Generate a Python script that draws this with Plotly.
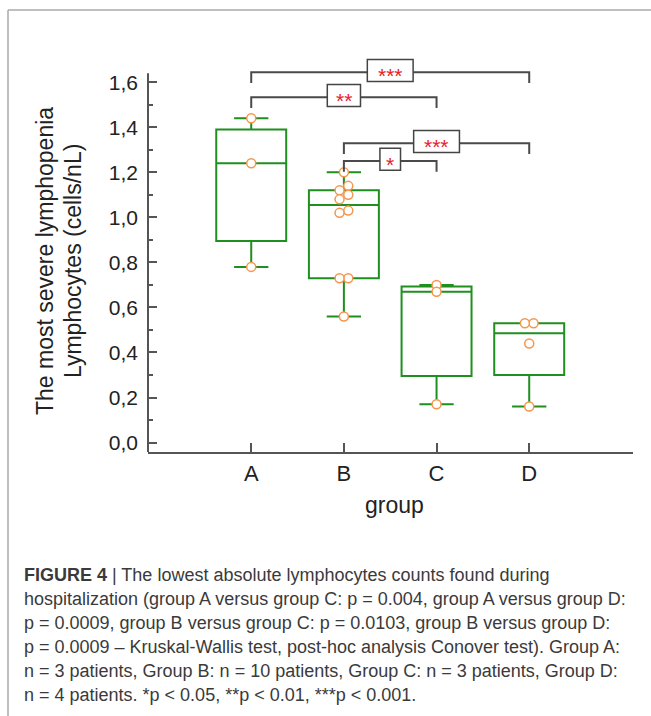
import numpy as np
import plotly.graph_objects as go

# Lowest absolute lymphocyte counts (cells/nL) per patient group
groups = ["A", "B", "C", "D"]
group_a = [1.44, 1.24, 0.78]
group_b = [1.20, 1.14, 1.12, 1.10, 1.08, 1.03, 1.02, 0.73, 0.73, 0.56]
group_c = [0.70, 0.67, 0.17]
group_d = [0.53, 0.53, 0.44, 0.16]

# Pairwise comparisons (Conover post-hoc) and their significance stars
pairs = [("A", "D"), ("A", "C"), ("B", "D"), ("B", "C")]
pair_stars = ["***", "**", "***", "*"]

y_ticks = [0.0, 0.2, 0.4, 0.6, 0.8, 1.0, 1.2, 1.4, 1.6]

caption_lines = [
    "<b>FIGURE 4</b> | The lowest absolute lymphocytes counts found during",
    "hospitalization (group A versus group C: p = 0.004, group A versus group D:",
    "p = 0.0009, group B versus group C: p = 0.0103, group B versus group D:",
    "p = 0.0009 – Kruskal-Wallis test, post-hoc analysis Conover test). Group A:",
    "n = 3 patients, Group B: n = 10 patients, Group C: n = 3 patients, Group D:",
    "n = 4 patients. *p < 0.05, **p < 0.01, ***p < 0.001.",
]

# ---- styling / geometry ----
W, H = 651, 716
M_L, M_R, M_T, M_B = 148, 18, 53, 264
GREEN = "#1f8f1f"
ORANGE = "#f5964b"
AXIS = "#555555"
FONT = "Liberation Sans, Arial, sans-serif"
Y_RANGE = [-0.042, 1.73]
Y_AXIS_TOP = 1.64
X_RANGE = [-0.114, 5.12]

data = [group_a, group_b, group_c, group_d]
xpos = {g: i + 1 for i, g in enumerate(groups)}


def px_x(p):
    return (p - M_L) / (W - M_L - M_R)


def px_y(p):
    return (H - M_B - p) / (H - M_T - M_B)


fig = go.Figure()

# box summary (quartiles via Hazen interpolation)
stats = [np.quantile(v, [0.25, 0.5, 0.75], method="hazen") for v in data]
fig.add_trace(go.Box(
    x=[xpos[g] for g in groups],
    q1=[s[0] for s in stats],
    median=[s[1] for s in stats],
    q3=[s[2] for s in stats],
    lowerfence=[min(v) for v in data],
    upperfence=[max(v) for v in data],
    width=0.755,
    whiskerwidth=0.49,
    line=dict(color=GREEN, width=2),
    fillcolor="rgba(0,0,0,0)",
    boxpoints=False,
    hoverinfo="skip",
    showlegend=False,
))

# individual patients, nudged sideways when values crowd together
px_, py_ = [], []
for g, vals in zip(groups, data):
    sv = sorted(vals, reverse=True)
    sign = 1
    for i, v in enumerate(sv):
        crowded = any(abs(v - w) < 0.025 for j, w in enumerate(sv) if j != i)
        off = 0.0
        if crowded:
            off = 0.047 * sign
            sign = -sign
        px_.append(xpos[g] + off)
        py_.append(v)
fig.add_trace(go.Scatter(
    x=px_, y=py_, mode="markers",
    marker=dict(symbol="circle", size=9, color="white",
                line=dict(color=ORANGE, width=1.5)),
    hoverinfo="skip", showlegend=False,
))

# significance brackets
bracket_levels = [1.644, 1.533, 1.329, 1.25]
drop = 0.047
for (g1, g2), stars, lvl in zip(pairs, pair_stars, bracket_levels):
    x1, x2 = xpos[g1], xpos[g2]
    fig.add_shape(type="path",
                  path=f"M {x1},{lvl - drop} L {x1},{lvl} L {x2},{lvl} L {x2},{lvl - drop}",
                  line=dict(color="#4a4a4a", width=2), xref="x", yref="y")
    half_w = 4 + 6.3 * len(stars)
    xm = (x1 + x2) / 2
    ym = lvl + 0.008
    fig.add_shape(type="rect", xref="x", yref="y",
                  xsizemode="pixel", ysizemode="pixel",
                  xanchor=xm, yanchor=ym,
                  x0=-half_w, x1=half_w, y0=-11, y1=11,
                  fillcolor="white", line=dict(color="#444444", width=1.5))
    fig.add_annotation(x=xm, y=ym, xref="x", yref="y", text=stars,
                       showarrow=False, yshift=-5,
                       font=dict(family=FONT, size=21, color="#e8202a"))

# left axis line, stopping just above the top tick
fig.add_shape(type="line", xref="paper", yref="y", x0=0, x1=0,
              y0=Y_RANGE[0], y1=Y_AXIS_TOP, line=dict(color=AXIS, width=2))

# figure frame
fig.add_shape(type="line", xref="paper", yref="paper",
              x0=px_x(8), x1=px_x(W + 5), y0=px_y(10), y1=px_y(10),
              line=dict(color="#aaaaaa", width=1.5))
fig.add_shape(type="line", xref="paper", yref="paper",
              x0=px_x(8), x1=px_x(8), y0=px_y(10), y1=px_y(H + 5),
              line=dict(color="#aaaaaa", width=1.5))

# y-axis title (two lines)
for txt, xc in [("The most severe lymphopenia", 45), ("Lymphocytes (cells/nL)", 73)]:
    fig.add_annotation(x=px_x(xc), y=px_y(261), xref="paper", yref="paper",
                       text=txt, textangle=-90, showarrow=False,
                       xanchor="center", yanchor="middle",
                       font=dict(family=FONT, size=23, color="#222222"))

# x-axis title
fig.add_annotation(x=px_x(394), y=px_y(505), xref="paper", yref="paper",
                   text="group", showarrow=False, xanchor="center", yanchor="middle",
                   font=dict(family=FONT, size=23, color="#222222"))

# caption
for i, line in enumerate(caption_lines):
    fig.add_annotation(x=px_x(22), y=px_y(575 + 24 * i), xref="paper", yref="paper",
                       text=line, showarrow=False, xanchor="left", yanchor="middle",
                       align="left",
                       font=dict(family=FONT, size=18, color="#3a3a3a"))

fig.update_layout(
    width=W, height=H,
    margin=dict(l=M_L, r=M_R, t=M_T, b=M_B, pad=0),
    paper_bgcolor="white", plot_bgcolor="white",
    separators=",.",
    font=dict(family=FONT, color="#222222"),
    xaxis=dict(
        range=X_RANGE, tickmode="array",
        tickvals=[xpos[g] for g in groups], ticktext=groups,
        ticks="inside", ticklen=9, tickwidth=1.5, tickcolor=AXIS,
        showline=True, linecolor=AXIS, linewidth=2,
        showgrid=False, zeroline=False,
        tickfont=dict(family=FONT, size=22, color="#222222"),
        ticklabelstandoff=1,
    ),
    yaxis=dict(
        range=Y_RANGE, tickmode="array", tickvals=y_ticks,
        tickformat=".1f",
        ticks="inside", ticklen=9, tickwidth=1.5, tickcolor=AXIS,
        minor=dict(tickmode="array",
                   tickvals=[0.1, 0.3, 0.5, 0.7, 0.9, 1.1, 1.3, 1.5],
                   ticks="inside", ticklen=5, tickwidth=1.5, tickcolor=AXIS),
        showline=False, showgrid=False, zeroline=False,
        tickfont=dict(family=FONT, size=21, color="#222222"),
        ticklabelstandoff=9,
    ),
)

fig.write_html("out.html")
